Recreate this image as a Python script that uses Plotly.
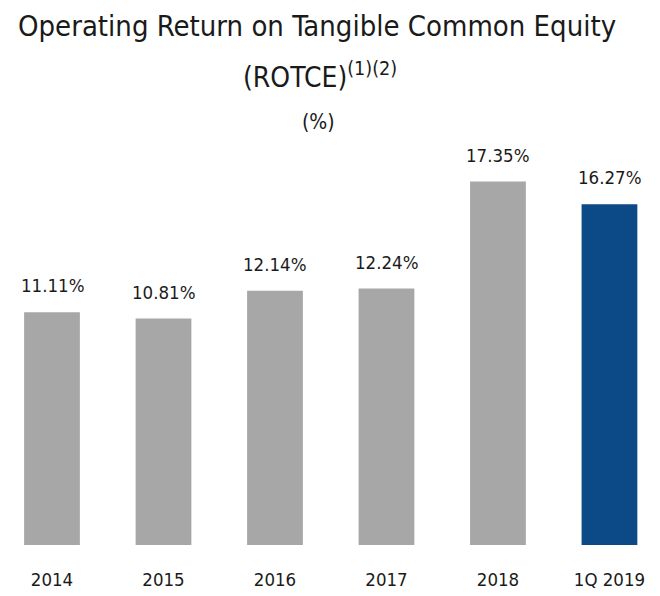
import plotly.graph_objects as go

categories = ["2014", "2015", "2016", "2017", "2018", "1Q 2019"]
values = [11.11, 10.81, 12.14, 12.24, 17.35, 16.27]
labels = ["11.11%", "10.81%", "12.14%", "12.24%", "17.35%", "16.27%"]
bar_colors = ["#A7A7A7", "#A7A7A7", "#A7A7A7", "#A7A7A7", "#A7A7A7", "#0B4A87"]

FONT = "DejaVu Sans Condensed, Liberation Sans, Arial, sans-serif"
TXT = "#1a1a1a"

W, HFIG = 660, 596
PLOT_H = 537.0   # plot area height (paper)

fig = go.Figure()
fig.add_trace(go.Bar(
    x=list(range(len(categories))),
    y=values,
    marker=dict(color=bar_colors, line=dict(width=0)),
    width=0.5,
    hoverinfo="skip",
))

annotations = []
for i, (v, lab) in enumerate(zip(values, labels)):
    annotations.append(dict(
        x=i, y=v, xref="x", yref="y", text=lab, showarrow=False,
        yanchor="bottom", xanchor="center", yshift=14,
        font=dict(family=FONT, size=18.5, color=TXT),
    ))

def py(p):
    return (PLOT_H - p) / PLOT_H

def px(p):
    return p / W

annotations += [
    dict(x=px(308.5), y=py(18), xref="paper", yref="paper",
         text="Operating Return on Tangible Common Equity",
         showarrow=False, xanchor="center", yanchor="middle",
         font=dict(family=FONT, size=29, color=TXT)),
    dict(x=px(312), y=py(67), xref="paper", yref="paper",
         text="(ROTCE)<sup>(1)(2)</sup>",
         showarrow=False, xanchor="center", yanchor="middle",
         font=dict(family=FONT, size=28, color=TXT)),
    dict(x=px(310.5), y=py(114), xref="paper", yref="paper", text="(%)",
         showarrow=False, xanchor="center", yanchor="middle",
         font=dict(family=FONT, size=21, color=TXT)),
]

fig.update_layout(
    width=W, height=HFIG,
    margin=dict(l=0, r=0, t=0, b=HFIG - int(PLOT_H)),
    plot_bgcolor="white", paper_bgcolor="white",
    showlegend=False,
    annotations=annotations,
    xaxis=dict(
        range=[-0.3946, 5.525],
        tickmode="array", tickvals=list(range(len(categories))), ticktext=categories,
        showgrid=False, zeroline=False, showline=False, ticks="",
        tickfont=dict(family=FONT, size=18.5, color=TXT),
        ticklabelstandoff=21,
    ),
    yaxis=dict(range=[0, PLOT_H / 20.95], visible=False, showgrid=False, zeroline=False),
)

fig.write_html("out.html")
